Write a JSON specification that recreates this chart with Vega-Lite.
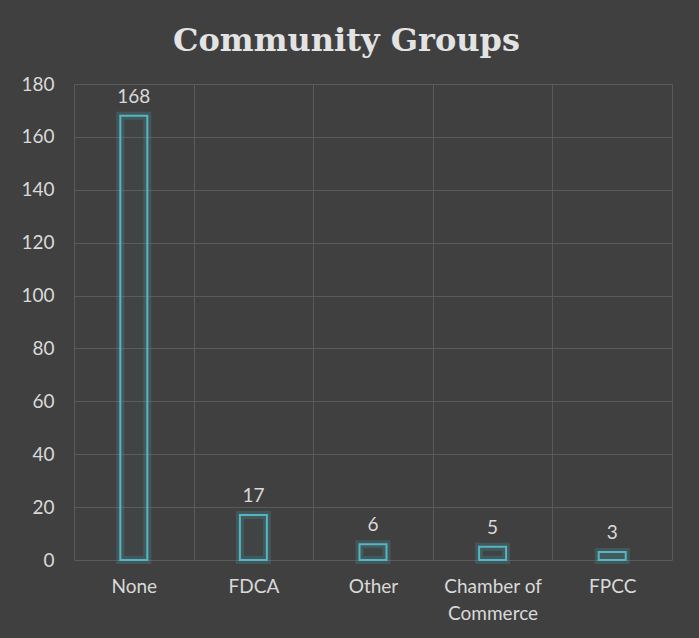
{
  "$schema": "https://vega.github.io/schema/vega-lite/v6.json",
  "autosize": {"type": "none"},
  "width": 598,
  "height": 476,
  "padding": {"left": 74, "top": 84, "right": 27, "bottom": 78},
  "background": "#404040",
  "title": {
    "text": "Community Groups",
    "font": "DejaVu Serif",
    "fontWeight": "bold",
    "fontSize": 32,
    "color": "#e3e3e3",
    "anchor": "middle",
    "frame": "bounds",
    "baseline": "alphabetic",
    "offset": -8
  },
  "config": {
    "view": {"stroke": null},
    "axis": {
      "labelFont": "Lato",
      "labelFontSize": 19,
      "labelColor": "#d9d9d9",
      "gridColor": "#5a5a5a",
      "gridWidth": 1,
      "domain": false,
      "ticks": false,
      "tickSize": 0,
      "title": null
    }
  },
  "data": {
    "values": [
      {"group": "None", "count": 168},
      {"group": "FDCA", "count": 17},
      {"group": "Other", "count": 6},
      {"group": "Chamber of Commerce", "count": 5},
      {"group": "FPCC", "count": 3}
    ]
  },
  "encoding": {
    "x": {
      "field": "group",
      "type": "nominal",
      "sort": null,
      "scale": {"paddingInner": 0, "paddingOuter": 0},
      "axis": {
        "labelAngle": 0,
        "grid": true,
        "tickBand": "extent",
        "labelPadding": 17,
        "labelBaseline": "top",
        "labelLineHeight": 27,
        "labelExpr": "datum.label == 'Chamber of Commerce' ? ['Chamber of', 'Commerce'] : datum.label"
      }
    },
    "y": {
      "field": "count",
      "type": "quantitative",
      "scale": {"domain": [0, 180]},
      "axis": {"values": [0, 20, 40, 60, 80, 100, 120, 140, 160, 180], "labelPadding": 20, "grid": true}
    }
  },
  "layer": [
    {
      "mark": {"type": "bar", "size": 27, "fill": null, "stroke": "#52b6c4", "strokeWidth": 8, "strokeOpacity": 0.2}
    },
    {
      "mark": {"type": "bar", "size": 27, "fill": "#52b6c4", "fillOpacity": 0.03, "stroke": "#52b6c4", "strokeWidth": 2}
    },
    {
      "mark": {"type": "text", "font": "Lato", "fontSize": 19, "color": "#d9d9d9", "baseline": "alphabetic", "dy": -13},
      "encoding": {"text": {"field": "count", "type": "quantitative"}}
    }
  ]
}
